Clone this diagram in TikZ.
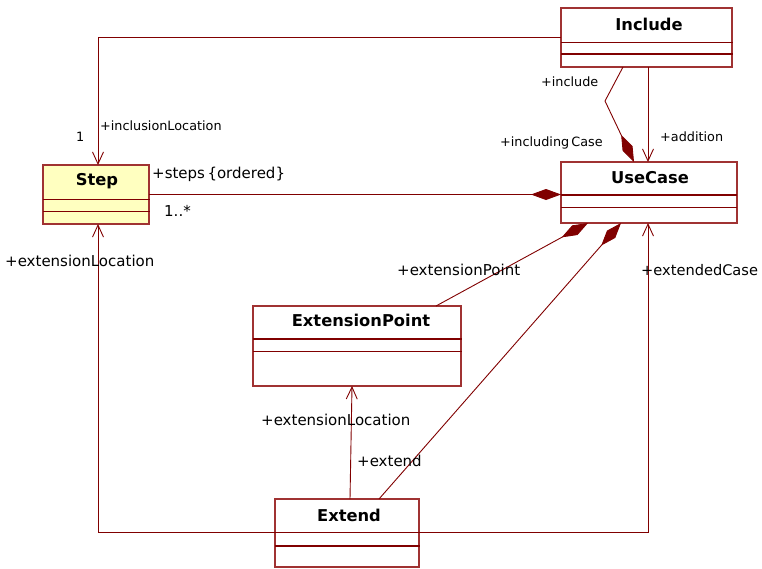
\documentclass[tikz,border=0pt]{standalone}
\usepackage{fontspec}
\setmainfont{DejaVu Sans}
\usetikzlibrary{arrows.meta,calc}
\definecolor{maroon}{RGB}{128,0,0}
\definecolor{boxline}{RGB}{160,50,50}
\definecolor{stepfill}{RGB}{255,255,192}

\tikzset{
  box/.style={draw=boxline, line width=1.1pt, anchor=north west, inner sep=0pt, outer sep=0pt},
  title/.style={font=\fontsize{16.3}{19}\selectfont\bfseries, inner sep=0pt},
  divthin/.style={draw=maroon, line width=0.8pt},
  divthick/.style={draw=maroon, line width=2pt},
  conn/.style={draw=maroon, line width=0.9pt},
  nav/.style={conn, -{Straight Barb[length=12pt,width=11pt,line width=0.9pt]}},
  comp/.style={conn, -{Diamond[length=30pt,width=11pt]}},
  lbl/.style={font=\fontsize{15}{18}\selectfont, anchor=west, inner sep=0pt},
  slbl/.style={font=\fontsize{12.8}{15}\selectfont, anchor=west, inner sep=0pt},
}

\begin{document}
\begin{tikzpicture}[x=1pt, y=-1pt]
  \useasboundingbox (0,0) rectangle (762,568);

  % ---- classes ----
  \node[box, minimum width=171pt, minimum height=59pt] (Include) at (561,8) {};
  \node[title] (IncludeT) at (649,24) {Include};
  \draw[divthin] (Include.west |- 0,42) -- ([xshift=1pt]Include.east |- 0,42);
  \draw[divthick] (Include.west |- 0,54) -- ([xshift=1pt]Include.east |- 0,54);

  \node[box, minimum width=176pt, minimum height=61pt] (UseCase) at (561,162) {};
  \node[title] (UseCaseT) at (650,178) {UseCase};
  \draw[divthick] (UseCase.west |- 0,195) -- (UseCase.east |- 0,195);
  \draw[divthin] (UseCase.west |- 0,207) -- (UseCase.east |- 0,207);

  \node[box, fill=stepfill, minimum width=106pt, minimum height=59pt] (Step) at (43,165) {};
  \node[title] (StepT) at (97,181) {Step};
  \draw[divthin] (Step.west |- 0,199) -- ([xshift=1pt]Step.east |- 0,199);
  \draw[divthin] (Step.west |- 0,211) -- ([xshift=1pt]Step.east |- 0,211);

  \node[box, minimum width=208pt, minimum height=80pt] (ExtensionPoint) at (253,306) {};
  \node[title] (ExtensionPointT) at (361,320) {ExtensionPoint};
  \draw[divthick] (ExtensionPoint.west |- 0,339) -- ([xshift=1pt]ExtensionPoint.east |- 0,339);
  \draw[divthin] (ExtensionPoint.west |- 0,351) -- ([xshift=1pt]ExtensionPoint.east |- 0,351);

  \node[box, minimum width=144pt, minimum height=68pt] (Extend) at (275,499) {};
  \node[title] (ExtendT) at (349,515) {Extend};
  \draw[divthin] (Extend.west |- 0,532) -- (Extend.east |- 0,532);
  \draw[divthick] (Extend.west |- 0,546) -- ([xshift=1pt]Extend.east |- 0,546);

  % ---- connectors ----
  % Include -> Step (inclusionLocation)
  \draw[nav] (Include.west) -| ([xshift=2pt]Step.north);
  % Include <>-- UseCase (include / including Case)
  \coordinate (bendInc) at (605,101);
  \draw[comp] ([xshift=-23.5pt]Include.south) -- (bendInc) -- ([xshift=-15pt]UseCase.north);
  % Include -> UseCase (addition)
  \draw[nav] ([xshift=1.5pt]Include.south) -- ([xshift=1.5pt]Include.south |- UseCase.north);
  % Step --<> UseCase (steps)
  \draw[comp] (Step.east) -- (Step.east -| UseCase.west);
  % ExtensionPoint --<> UseCase
  \draw[comp] ([xshift=79pt]ExtensionPoint.north) -- ([xshift=-61pt]UseCase.south);
  % Extend --<> UseCase
  \draw[comp] ([xshift=32pt]Extend.north) -- ([xshift=-28pt]UseCase.south);
  % Extend -> ExtensionPoint
  \draw[nav] ([xshift=3pt]Extend.north) -- ([xshift=-5pt]ExtensionPoint.south);
  % Extend -> Step
  \draw[nav] (Extend.west |- 0,532) -| ([xshift=2pt]Step.south);
  % Extend -> UseCase (extendedCase)
  \draw[nav] (Extend.east |- 0,532) -| ([xshift=-1pt]UseCase.south);

  % ---- role labels ----
  \node[slbl] (lInclLoc) at (100,126) {+inclusionLocation};
  \node[slbl] (lOne) at (76,137) {1};
  \node[lbl] (lSteps) at (152,174) {+steps\,\{ordered\}};
  \node[lbl] (lMult) at (164,211) {1..*};
  \node[slbl] (lInclude) at (541,82) {+include};
  \node[slbl] (lIncluding) at (500,143) {+including\,Case};
  \node[slbl] (lAddition) at (660,137) {+addition};
  \node[lbl] (lExtLocL) at (5,261) {+extensionLocation};
  \node[lbl] (lExtPoint) at (397,270) {+extensionPoint};
  \node[lbl, font=\fontsize{14.6}{18}\selectfont] (lExtCase) at (641,270) {+extendedCase};
  \node[lbl] (lExtLocM) at (261,420) {+extensionLocation};
  \node[lbl] (lExtend) at (357,461) {+extend};
\end{tikzpicture}
\end{document}
